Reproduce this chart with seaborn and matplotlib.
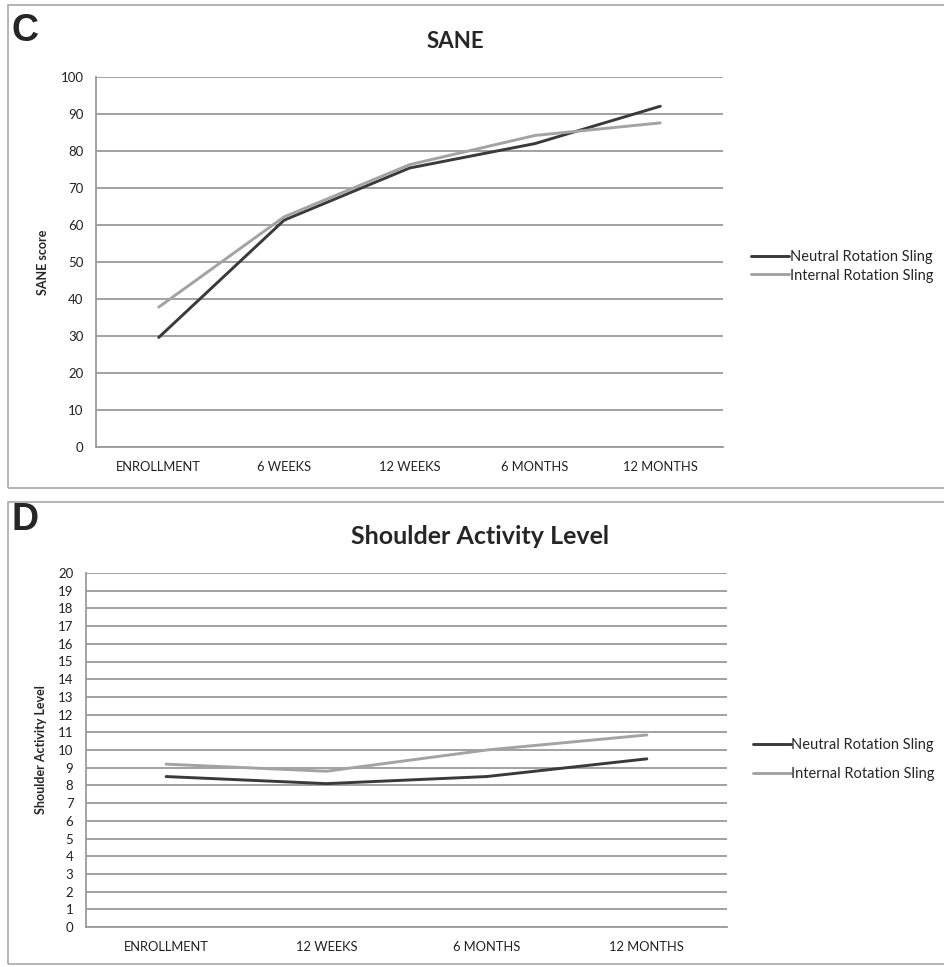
"""SANE and Shoulder Activity Level by sling type, two stacked panels."""

import matplotlib

matplotlib.use("Agg")

import matplotlib.pyplot as plt
import pandas as pd
import seaborn as sns
from matplotlib.patches import Rectangle

# panel C: SANE
sane_times = ["ENROLLMENT", "6 WEEKS", "12 WEEKS", "6 MONTHS", "12 MONTHS"]
sane_neutral = [29.6, 61.3, 75.4, 82.0, 92.1]
sane_internal = [37.8, 62.2, 76.3, 84.2, 87.6]

# panel D: Shoulder Activity Level
sal_times = ["ENROLLMENT", "12 WEEKS", "6 MONTHS", "12 MONTHS"]
sal_neutral = [8.5, 8.1, 8.5, 9.5]
sal_internal = [9.2, 8.8, 10.0, 10.85]

series_names = ["Neutral Rotation Sling", "Internal Rotation Sling"]
palette = {"Neutral Rotation Sling": "#3a3a3a", "Internal Rotation Sling": "#a3a3a3"}

GRID = "#9a9a9a"
FONT = ["Lato", "DejaVu Sans"]


def _long(times, neutral, internal):
    return pd.DataFrame({
        "time": list(times) * 2,
        "value": list(neutral) + list(internal),
        "sling": [series_names[0]] * len(times) + [series_names[1]] * len(times),
    })


def _panel(fig, rect, frame, ymax, ystep, ylabel, tick_size):
    ax = fig.add_axes(rect)
    sns.lineplot(data=frame, x="time", y="value", hue="sling", palette=palette,
                 hue_order=series_names, sort=False, linewidth=2.1, ax=ax, legend=True)
    n = frame["time"].nunique()
    ax.set_xlim(-0.5, n - 0.5)
    ax.set_ylim(0, ymax)
    ax.set_yticks(range(0, ymax + 1, ystep))
    ax.yaxis.grid(True, color=GRID, linewidth=1.3)
    ax.xaxis.grid(False)
    ax.set_axisbelow(True)
    for side in ["top", "right"]:
        ax.spines[side].set_visible(False)
    for side in ["left", "bottom"]:
        ax.spines[side].set_color(GRID)
        ax.spines[side].set_linewidth(1.3)
    ax.tick_params(axis="y", length=4, color=GRID, width=1.3, labelsize=tick_size, pad=5)
    ax.tick_params(axis="x", length=0, labelsize=9.3, pad=10)
    for lab in ax.get_xticklabels() + ax.get_yticklabels():
        lab.set_family(FONT)
        lab.set_color("#222222")
    ax.set_xlabel("")
    ax.set_ylabel(ylabel, fontsize=9, fontweight="bold", family=FONT, labelpad=8)
    return ax


def main() -> None:
    sns.set_style("white")
    plt.rcParams["font.family"] = FONT

    fig = plt.figure(figsize=(9.45, 9.67), dpi=100)

    # panel frames
    fig.patches.append(Rectangle((8 / 945, 1 - 488 / 967), 0.995, 483 / 967, transform=fig.transFigure,
                                 fill=False, edgecolor="#a8a8a8", linewidth=1.2))
    fig.patches.append(Rectangle((8 / 945, 1 - 964 / 967), 0.995, 462 / 967, transform=fig.transFigure,
                                 fill=False, edgecolor="#a8a8a8", linewidth=1.2))

    ax_c = _panel(fig, [96 / 945, 1 - 447 / 967, 627 / 945, 370 / 967],
                  _long(sane_times, sane_neutral, sane_internal), 100, 10, "SANE score", 9.5)
    ax_c.legend(loc="center left", bbox_to_anchor=(0.787, 0.7245), bbox_transform=fig.transFigure,
                frameon=False, fontsize=10.5, handlelength=2.6, handletextpad=0.1,
                labelspacing=0.3, borderpad=0)

    ax_d = _panel(fig, [86 / 945, 1 - 927 / 967, 641 / 945, 354 / 967],
                  _long(sal_times, sal_neutral, sal_internal), 20, 1, "Shoulder Activity Level", 9.5)
    ax_d.legend(loc="center left", bbox_to_anchor=(0.789, 0.2146), bbox_transform=fig.transFigure,
                frameon=False, fontsize=10.5, handlelength=2.6, handletextpad=0.0,
                labelspacing=1.0, borderpad=0)

    fig.text(12 / 945, 1 - 31 / 967, "C", fontsize=27, fontweight="bold", va="center",
             family="Liberation Sans")
    fig.text(455 / 945, 1 - 42 / 967, "SANE", fontsize=16, fontweight="bold", ha="center",
             va="center")
    fig.text(12 / 945, 1 - 520 / 967, "D", fontsize=27, fontweight="bold", va="center",
             family="Liberation Sans")
    fig.text(480 / 945, 1 - 537 / 967, "Shoulder Activity Level", fontsize=18, fontweight="bold",
             ha="center", va="center")

    fig.savefig("out.png", dpi=100)
    plt.close(fig)


if __name__ == "__main__":
    main()
